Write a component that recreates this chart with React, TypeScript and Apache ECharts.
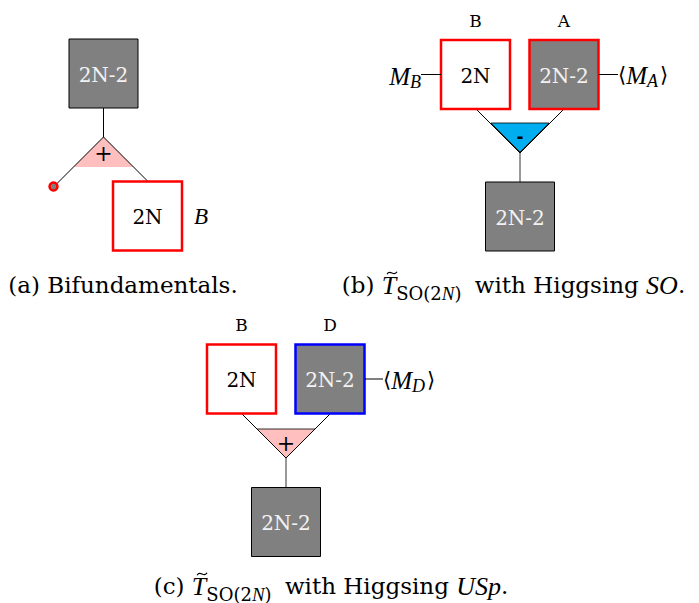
import React, { useEffect, useRef } from "react";
import * as echarts from "echarts";

const SERIF = '"DejaVu Serif", "Liberation Serif", "DejaVu Sans", serif';
const ITAL = '"Liberation Serif", "DejaVu Serif", serif';

// diagram content
const rankLabels = ["2N-2", "2N"];
const topLabels = ["B", "A", "D"];
const signs = ["+", "-", "+"];
const sideLabelA = "B";
const captionA = "(a) Bifundamentals.";
const higgsB = "SO";
const higgsC = "USp";

type Frag = { t: string; it?: boolean; s: number; dy?: number; gap?: number };

const GRAY = "#808080";
const RED = "#ff0000";
const BLUE = "#0000ff";
const PINK = "#ffbfbf";
const CYAN = "#00aeef";
const BOX = 69;

let ctx: CanvasRenderingContext2D | null = null;
function fam(f: Frag) {
  return f.it ? ITAL : SERIF;
}
function measure(f: Frag) {
  if (!ctx) ctx = document.createElement("canvas").getContext("2d");
  ctx!.font = `${f.it ? "italic " : ""}${f.s}px ${fam(f)}`;
  return ctx!.measureText(f.t).width;
}

function run(frags: Frag[], x: number, y: number, anchor: "left" | "center" | "right") {
  const ws = frags.map((f) => measure(f) + (f.gap || 0));
  const total = ws.reduce((a, b) => a + b, 0);
  let cx = anchor === "left" ? x : anchor === "center" ? x - total / 2 : x - total;
  const els: any[] = [];
  const pos: number[] = [];
  frags.forEach((f, i) => {
    const px = cx + (f.gap || 0);
    pos.push(px);
    els.push({
      type: "text",
      x: px,
      y: y + (f.dy || 0),
      style: {
        text: f.t,
        fontSize: f.s,
        fontFamily: fam(f),
        fontStyle: f.it ? "italic" : "normal",
        fill: "#000",
        textAlign: "left",
        textVerticalAlign: "middle",
      },
    });
    cx += ws[i];
  });
  return { els, pos, ws };
}

function box(x: number, y: number, fill: string, stroke: string, lw: number, label: string) {
  return [
    { type: "rect", shape: { x, y, width: BOX, height: BOX }, style: { fill, stroke, lineWidth: lw } },
    {
      type: "text",
      x: x + BOX / 2,
      y: y + BOX / 2 + 1,
      style: {
        text: label,
        fontSize: 20,
        fontFamily: SERIF,
        fill: fill === GRAY ? "#f2f2f2" : "#000",
        textAlign: "center",
        textVerticalAlign: "middle",
      },
    },
  ];
}

function line(pts: number[][], color = "#000") {
  return { type: "polyline", shape: { points: pts }, style: { stroke: color, lineWidth: 1, fill: null } };
}

function sign(x: number, y: number, s: string) {
  return {
    type: "text",
    x,
    y,
    style: {
      text: s,
      fontSize: s === "-" ? 17 : 22,
      fontWeight: s === "-" ? "bold" : "normal",
      fontFamily: s === "-" ? '"DejaVu Sans", sans-serif' : SERIF,
      fill: "#000",
      textAlign: "center",
      textVerticalAlign: "middle",
    },
  };
}

function label(x: number, y: number, t: string, it = false, s = 17) {
  return {
    type: "text",
    x,
    y,
    style: {
      text: t,
      fontSize: s,
      fontFamily: it ? ITAL : SERIF,
      fontStyle: it ? "italic" : "normal",
      fill: "#000",
      textAlign: "center",
      textVerticalAlign: "middle",
    },
  };
}

function tilde(x: number, y: number) {
  return {
    type: "bezierCurve",
    shape: { x1: x - 5, y1: y + 1.2, cpx1: x - 2, cpy1: y - 4.5, cpx2: x + 2, cpy2: y + 4.5, x2: x + 5, y2: y - 1.2 },
    style: { stroke: "#000", lineWidth: 1.1, fill: null },
  };
}

function tcaption(tag: string, higgs: string, cx: number, y: number) {
  const frags: Frag[] = [
    { t: tag + " ", s: 23 },
    { t: "T", it: true, s: 26 },
    { t: "SO(2", s: 18, dy: 8 },
    { t: "N", it: true, s: 19, dy: 8 },
    { t: ")", s: 18, dy: 8 },
    { t: " with Higgsing ", s: 23, gap: 6 },
    { t: higgs, it: true, s: 26 },
    { t: ".", s: 23 },
  ];
  const r = run(frags, cx, y, "center");
  r.els.push(tilde(r.pos[1] + r.ws[1] / 2 + 3, y - 12));
  return r.els;
}

function mathLabel(sub: string, x: number, y: number, anchor: "left" | "right", brackets: boolean) {
  const frags: Frag[] = [];
  if (brackets) frags.push({ t: "⟨", s: 21 });
  frags.push({ t: "M", it: true, s: 25 });
  frags.push({ t: sub, it: true, s: 18, dy: 6 });
  if (brackets) frags.push({ t: "⟩", s: 21, gap: 2 });
  return run(frags, x, y, anchor).els;
}

export default function App() {
  const ref = useRef<HTMLDivElement>(null);
  useEffect(() => {
    const chart = echarts.init(ref.current!, null, { renderer: "svg" });
    const els: any[] = [];

    // ---- (a)
    els.push({ type: "polygon", shape: { points: [[103.5, 137], [73.5, 167], [133.5, 167]] }, style: { fill: PINK, stroke: null } });
    els.push(line([[103.5, 108], [103.5, 137]]));
    els.push(line([[53.5, 187], [103.5, 137], [147.5, 181]]));
    els.push(sign(103.5, 153, signs[0]));
    els.push(...box(69, 39, GRAY, "#000", 1, rankLabels[0]));
    els.push(...box(113, 181.5, "#fff", RED, 2.5, rankLabels[1]));
    els.push({ type: "circle", shape: { cx: 53.5, cy: 186.5, r: 4 }, style: { fill: GRAY, stroke: RED, lineWidth: 2.5 } });
    els.push(label(201, 216, sideLabelA, true, 23));
    els.push(...run([{ t: captionA, s: 23 }], 123, 285, "center").els);

    // ---- (b)
    els.push({ type: "polygon", shape: { points: [[491, 123], [549, 123], [520, 152]] }, style: { fill: CYAN, stroke: "#000", lineWidth: 0.8 } });
    els.push(line([[476, 109], [520, 153], [564, 109]]));
    els.push(line([[520, 153], [520, 182]], "#333"));
    els.push(sign(520, 137, signs[1]));
    els.push(...box(441, 40, "#fff", RED, 2.5, rankLabels[1]));
    els.push(...box(529.5, 40, GRAY, RED, 2.5, rankLabels[0]));
    els.push(...box(485.5, 182, GRAY, "#000", 1, rankLabels[0]));
    els.push(label(475.5, 21, topLabels[0]));
    els.push(label(564, 21, topLabels[1]));
    els.push(line([[421, 74.5], [441, 74.5]]));
    els.push(...mathLabel("B", 421, 76, "right", false));
    els.push(line([[598.5, 74.5], [618, 74.5]]));
    els.push(...mathLabel("A", 618, 75, "left", true));
    els.push(...tcaption("(b)", higgsB, 513.5, 285));

    // ---- (c)
    els.push({ type: "polygon", shape: { points: [[257, 429], [315, 429], [286, 458]] }, style: { fill: PINK, stroke: "#000", lineWidth: 0.8 } });
    els.push(line([[242, 414], [286, 458], [330, 414]]));
    els.push(line([[286, 458], [286, 487.5]], "#333"));
    els.push(sign(286, 443, signs[2]));
    els.push(...box(207, 344.5, "#fff", RED, 2.5, rankLabels[1]));
    els.push(...box(295.5, 344.5, GRAY, BLUE, 2.5, rankLabels[0]));
    els.push(...box(251.5, 487.5, GRAY, "#000", 1, rankLabels[0]));
    els.push(label(241.5, 325, topLabels[0]));
    els.push(label(330, 325, topLabels[2]));
    els.push(line([[365, 379], [383, 379]]));
    els.push(...mathLabel("D", 383, 380, "left", true));
    els.push(...tcaption("(c)", higgsC, 331, 586));

    chart.setOption({ animation: false, graphic: { elements: els } });
    return () => chart.dispose();
  }, []);
  return <div ref={ref} style={{ width: 699, height: 603, position: "absolute", left: 0, top: 0, background: "#fff" }} />;
}
